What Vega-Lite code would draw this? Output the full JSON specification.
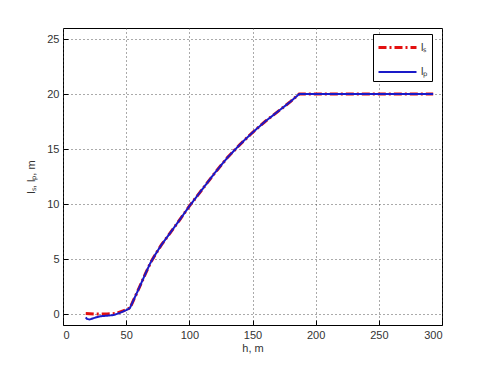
{
  "$schema": "https://vega.github.io/schema/vega-lite/v6.json",
  "width": 379,
  "height": 297,
  "autosize": "none",
  "padding": {"left": 63, "top": 28, "right": 45, "bottom": 40},
  "background": "white",
  "config": {
    "view": {"stroke": "#000000", "strokeWidth": 1},
    "font": "Liberation Sans",
    "axis": {
      "labelFont": "Liberation Sans",
      "titleFont": "Liberation Sans",
      "labelFontSize": 11,
      "titleFontSize": 11,
      "titleFontWeight": "normal",
      "labelColor": "#333333",
      "titleColor": "#333333",
      "domain": false,
      "tickColor": "#000000",
      "tickSize": -5,
      "labelPadding": 9,
      "gridColor": "#444444",
      "gridDash": [1, 3],
      "gridOpacity": 0.9
    }
  },
  "datasets": {
    "curves": [
      {"h": 18, "l": 0.05, "series": "lₛ"},
      {"h": 25, "l": 0.0, "series": "lₛ"},
      {"h": 35, "l": 0.0, "series": "lₛ"},
      {"h": 42, "l": 0.05, "series": "lₛ"},
      {"h": 48, "l": 0.3, "series": "lₛ"},
      {"h": 53, "l": 0.55, "series": "lₛ"},
      {"h": 60, "l": 2.3, "series": "lₛ"},
      {"h": 65, "l": 3.6, "series": "lₛ"},
      {"h": 69, "l": 4.6, "series": "lₛ"},
      {"h": 73, "l": 5.4, "series": "lₛ"},
      {"h": 78, "l": 6.3, "series": "lₛ"},
      {"h": 85, "l": 7.4, "series": "lₛ"},
      {"h": 92, "l": 8.5, "series": "lₛ"},
      {"h": 100, "l": 9.8, "series": "lₛ"},
      {"h": 110, "l": 11.3, "series": "lₛ"},
      {"h": 120, "l": 12.8, "series": "lₛ"},
      {"h": 130, "l": 14.2, "series": "lₛ"},
      {"h": 140, "l": 15.4, "series": "lₛ"},
      {"h": 150, "l": 16.5, "series": "lₛ"},
      {"h": 160, "l": 17.5, "series": "lₛ"},
      {"h": 170, "l": 18.4, "series": "lₛ"},
      {"h": 180, "l": 19.3, "series": "lₛ"},
      {"h": 187, "l": 20.0, "series": "lₛ"},
      {"h": 293, "l": 20.0, "series": "lₛ"},
      {"h": 18, "l": -0.3, "series": "lₚ"},
      {"h": 19, "l": -0.45, "series": "lₚ"},
      {"h": 21, "l": -0.5, "series": "lₚ"},
      {"h": 25, "l": -0.35, "series": "lₚ"},
      {"h": 30, "l": -0.2, "series": "lₚ"},
      {"h": 40, "l": -0.1, "series": "lₚ"},
      {"h": 45, "l": 0.1, "series": "lₚ"},
      {"h": 50, "l": 0.35, "series": "lₚ"},
      {"h": 53, "l": 0.55, "series": "lₚ"},
      {"h": 60, "l": 2.3, "series": "lₚ"},
      {"h": 65, "l": 3.6, "series": "lₚ"},
      {"h": 69, "l": 4.6, "series": "lₚ"},
      {"h": 73, "l": 5.4, "series": "lₚ"},
      {"h": 78, "l": 6.3, "series": "lₚ"},
      {"h": 85, "l": 7.4, "series": "lₚ"},
      {"h": 92, "l": 8.5, "series": "lₚ"},
      {"h": 100, "l": 9.8, "series": "lₚ"},
      {"h": 110, "l": 11.3, "series": "lₚ"},
      {"h": 120, "l": 12.8, "series": "lₚ"},
      {"h": 130, "l": 14.2, "series": "lₚ"},
      {"h": 140, "l": 15.4, "series": "lₚ"},
      {"h": 150, "l": 16.5, "series": "lₚ"},
      {"h": 160, "l": 17.5, "series": "lₚ"},
      {"h": 170, "l": 18.4, "series": "lₚ"},
      {"h": 180, "l": 19.3, "series": "lₚ"},
      {"h": 187, "l": 20.0, "series": "lₚ"},
      {"h": 293, "l": 20.0, "series": "lₚ"}
    ]
  },
  "data": {"name": "curves"},
  "encoding": {
    "x": {
      "field": "h", "type": "quantitative",
      "scale": {"domain": [0, 300], "nice": false, "zero": false},
      "axis": {"values": [0, 50, 100, 150, 200, 250, 300], "title": "h, m", "titlePadding": 2, "grid": true}
    },
    "y": {
      "field": "l", "type": "quantitative",
      "scale": {"domain": [-1, 26], "nice": false, "zero": false},
      "axis": {"values": [0, 5, 10, 15, 20, 25], "title": "lₛ, lₚ, m", "titlePadding": 10, "grid": true}
    },
    "color": {
      "field": "series", "type": "nominal",
      "scale": {"domain": ["lₛ", "lₚ"], "range": ["#e31010", "#1a1ac8"]},
      "legend": {
        "title": null,
        "orient": "none",
        "legendX": 310,
        "legendY": 6,
        "strokeColor": "#000000",
        "fillColor": "white",
        "padding": 4,
        "symbolType": "M-1,0H3.75",
        "symbolSize": 256,
        "symbolStrokeWidth": 2,
        "labelFontSize": 11,
        "labelFont": "Liberation Sans",
        "labelColor": "#333333",
        "rowPadding": 9,
        "labelOffset": 25
      }
    },
    "strokeDash": {
      "field": "series", "type": "nominal",
      "scale": {"domain": ["lₛ", "lₚ"], "range": [[8, 3, 2, 3], [1, 0]]}
    },
    "strokeWidth": {
      "field": "series", "type": "nominal",
      "scale": {"domain": ["lₛ", "lₚ"], "range": [3, 2]}
    }
  },
  "layer": [
    {
      "transform": [{"filter": "datum.series === 'lₛ'"}],
      "mark": {"type": "line"}
    },
    {
      "transform": [{"filter": "datum.series === 'lₚ'"}],
      "mark": {"type": "line"}
    }
  ]
}
